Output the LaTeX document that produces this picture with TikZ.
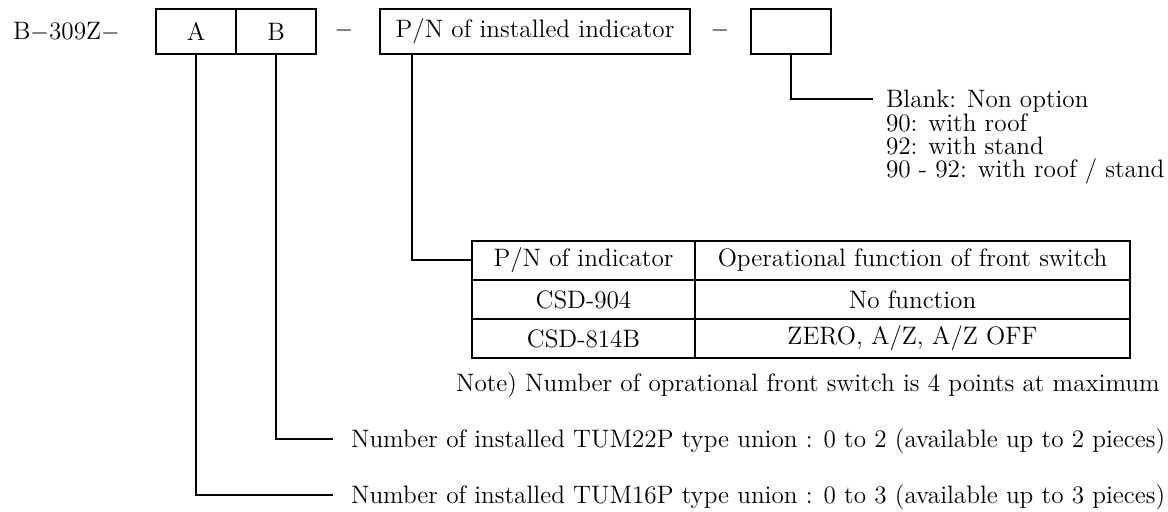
\documentclass[tikz,border=0pt]{standalone}
\usepackage{fontspec}
\begin{document}
\begin{tikzpicture}[x=0.5pt,y=-0.5pt,line width=1pt,
  every node/.style={font=\fontsize{12.6}{14}\selectfont,inner sep=0pt},
  box/.style={draw,minimum width=40pt,minimum height=22.5pt},
  cell/.style={draw,minimum height=19.5pt},
  txt/.style={anchor=west,text height=8.7pt,text depth=0pt}]
\useasboundingbox (0,0) rectangle (1168,512);
% code line
\node[txt] (code) at (12,31) {B$-$309Z$-$};
\node[box] (boxA) at (196,31.5) {A};
\node[box] (boxB) at (276,31.5) {B};
\node (dash1) at (344,31) {$-$};
\node[box,minimum width=155pt] (pn) at (535,31.5) {P/N of installed indicator};
\node (dash2) at (720,31) {$-$};
\node[box] (blank) at (791,31.5) {};
% options
\foreach \t [count=\i from 0] in {Blank: Non option,90: with roof,92: with stand,90 - 92: with roof / stand}
  \node[txt,inner xsep=6pt] (opt\i) at (873,99+23.4*\i) {\t};
% indicator table
\node[cell,minimum width=111.5pt] (h1) at (583.5,260.5) {P/N of indicator};
\node[cell,minimum width=217.5pt] (h2) at (912.5,260.5) {Operational function of front switch};
\node[cell,minimum width=111.5pt] (r1) at (583.5,299.5) {CSD-904};
\node[cell,minimum width=217.5pt] (f1) at (912.5,299.5) {No function};
\node[cell,minimum width=111.5pt] (r2) at (583.5,338.5) {CSD-814B};
\node[cell,minimum width=217.5pt] (f2) at (912.5,338.5) {ZERO, A/Z, A/Z OFF};
\node[txt] (note) at (455,383) {Note) Number of oprational front switch is 4 points at maximum};
% unions
\node[txt,inner xsep=8.5pt] (tum22) at (333,439) {Number of installed TUM22P type union : 0 to 2 (available up to 2 pieces)};
\node[txt,inner xsep=8.5pt] (tum16) at (333,495) {Number of installed TUM16P type union : 0 to 3 (available up to 3 pieces)};
\draw (boxA.south) |- (tum16.west);
\draw (boxB.south) |- (tum22.west);
\draw ([xshift=16.5pt]pn.south west) |- (h1.west);
\draw (blank.south) |- (opt0.west);
\end{tikzpicture}
\end{document}
